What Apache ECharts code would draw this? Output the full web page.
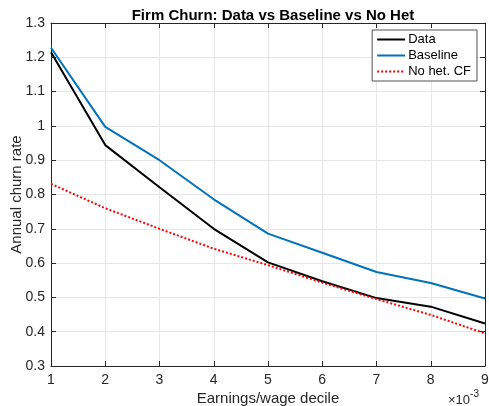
<!DOCTYPE html>
<html>
<head>
<meta charset="utf-8">
<script src="https://cdn.jsdelivr.net/npm/echarts@6/dist/echarts.min.js"></script>
<style>
  html, body { margin: 0; padding: 0; background: #fff; }
  #chart { width: 489px; height: 406px; }
</style>
</head>
<body>
<div id="chart"></div>
<script>
// deciles and churn rates
const deciles = [1, 2, 3, 4, 5, 6, 7, 8, 9];
const dataChurn = [1.215, 0.944, 0.821, 0.700, 0.602, 0.547, 0.498, 0.473, 0.424];
const baselineChurn = [1.228, 0.997, 0.900, 0.786, 0.686, 0.630, 0.574, 0.542, 0.497];
const noHetChurn = [0.831, 0.760, 0.700, 0.642, 0.594, 0.543, 0.495, 0.449, 0.395];

const pair = (ys) => deciles.map((x, i) => [x, ys[i]]);

const font = 'Helvetica, Arial, "Liberation Sans", sans-serif';
const axisCol = '#262626';
const gridCol = '#e6e6e6';

const chart = echarts.init(document.getElementById('chart'));

const baseX = {
  type: 'value', min: 1, max: 9, interval: 1,
  axisLine: { show: true, lineStyle: { color: axisCol, width: 1 } },
  axisTick: { show: true, inside: true, length: 5, lineStyle: { color: axisCol } }
};
const baseY = {
  type: 'value', min: 0.3, max: 1.3, interval: 0.1,
  axisLine: { show: true, lineStyle: { color: axisCol, width: 1 } },
  axisTick: { show: true, inside: true, length: 5, lineStyle: { color: axisCol } }
};

chart.setOption({
  animation: false,
  title: {
    text: 'Firm Churn: Data vs Baseline vs No Het',
    left: 268, top: 3, textAlign: 'center',
    textStyle: { fontFamily: font, fontSize: 15, fontWeight: 'bold', color: '#000' }
  },
  grid: { left: 51, right: 4, top: 23, bottom: 40, outerBoundsMode: 'none', containLabel: false },
  legend: {
    orient: 'vertical',
    right: 12, top: 30,
    padding: [3, 6, 3, 4],
    itemGap: 3,
    itemWidth: 28, itemHeight: 10,
    backgroundColor: '#fff',
    borderColor: '#262626', borderWidth: 0.8, borderRadius: 0,
    itemStyle: { opacity: 0 },
    textStyle: { fontFamily: font, fontSize: 13, color: '#000', padding: [0, 0, 0, -2] },
    data: ['Data', 'Baseline', 'No het. CF']
  },
  xAxis: [
    Object.assign({}, baseX, {
      name: 'Earnings/wage decile',
      nameLocation: 'middle', nameGap: 25, nameMoveOverlap: false,
      nameTextStyle: { fontFamily: font, fontSize: 15, color: axisCol },
      axisLabel: { fontFamily: font, fontSize: 14, color: axisCol, margin: 7 },
      splitLine: { show: true, lineStyle: { color: gridCol, width: 1 } }
    }),
    Object.assign({}, baseX, {
      position: 'top', axisLabel: { show: false }, splitLine: { show: false }
    })
  ],
  yAxis: [
    Object.assign({}, baseY, {
      name: 'Annual churn rate',
      nameLocation: 'middle', nameGap: 27, nameMoveOverlap: false,
      nameTextStyle: { fontFamily: font, fontSize: 15, color: axisCol },
      axisLabel: {
        fontFamily: font, fontSize: 14, color: axisCol, margin: 6,
        formatter: (v) => String(Math.round(v * 10) / 10)
      },
      splitLine: { show: true, lineStyle: { color: gridCol, width: 1 } }
    }),
    Object.assign({}, baseY, {
      position: 'right', axisLabel: { show: false }, splitLine: { show: false }
    })
  ],
  series: [
    {
      name: 'Data', type: 'line', data: pair(dataChurn),
      symbol: 'none', color: '#000',
      lineStyle: { color: '#000', width: 2 }
    },
    {
      name: 'Baseline', type: 'line', data: pair(baselineChurn),
      symbol: 'none', color: '#0072BD',
      lineStyle: { color: '#0072BD', width: 2 }
    },
    {
      name: 'No het. CF', type: 'line', data: pair(noHetChurn),
      symbol: 'none', color: '#ff0000',
      lineStyle: { color: '#ff0000', width: 2, type: [2, 2] }
    }
  ],
  graphic: [
    {
      type: 'text', left: 448, top: 389,
      style: {
        text: '{a|×10}{b|-3}',
        rich: {
          a: { fontFamily: font, fontSize: 13, fill: axisCol, verticalAlign: 'bottom' },
          b: { fontFamily: font, fontSize: 10, fill: axisCol, verticalAlign: 'top', padding: [0, 0, 8, 0] }
        }
      }
    }
  ]
});
</script>
</body>
</html>
